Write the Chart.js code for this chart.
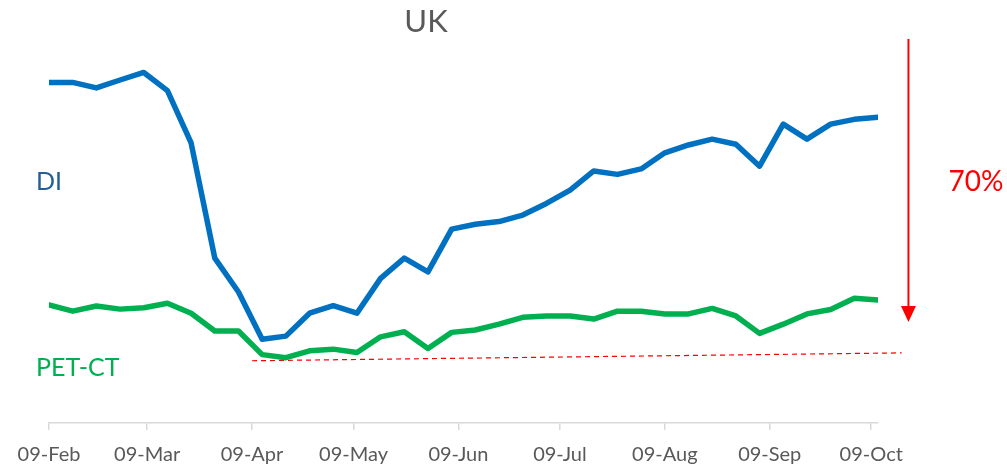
<!DOCTYPE html>
<html>
<head>
<meta charset="utf-8">
<title>UK</title>
<script src="https://cdn.jsdelivr.net/npm/chart.js@4/dist/chart.umd.min.js"></script>
<style>
  html, body { margin: 0; padding: 0; background: #fff; }
  #wrap { width: 1007px; height: 468px; }
</style>
</head>
<body>
<div id="wrap"><canvas id="ukChart"></canvas></div>
<script>
// weekly dates
const weeks = [
  '2020-02-09', '2020-02-16', '2020-02-23', '2020-03-01', '2020-03-08', '2020-03-15',
  '2020-03-22', '2020-03-29', '2020-04-05', '2020-04-12', '2020-04-19', '2020-04-26',
  '2020-05-03', '2020-05-10', '2020-05-17', '2020-05-24', '2020-05-31', '2020-06-07',
  '2020-06-14', '2020-06-21', '2020-06-28', '2020-07-05', '2020-07-12', '2020-07-19',
  '2020-07-26', '2020-08-02', '2020-08-09', '2020-08-16', '2020-08-23', '2020-08-30',
  '2020-09-06', '2020-09-13', '2020-09-20', '2020-09-27', '2020-10-04', '2020-10-11'
];

const diValues = [
  99.6, 99.6, 98.0, 100.3, 102.5, 97.2, 81.9, 48.2, 38.3, 24.5, 25.4, 32.1,
  34.3, 32.1, 42.3, 48.2, 44.2, 56.7, 58.1, 58.9, 60.8, 64.2, 68.1, 73.7,
  72.7, 74.3, 79.0, 81.3, 83.0, 81.5, 75.1, 87.4, 83.0, 87.4, 88.8, 89.4
];

const petctValues = [
  34.5, 32.7, 34.2, 33.3, 33.7, 35.0, 32.1, 26.9, 26.9, 20.0, 19.1, 21.1,
  21.6, 20.6, 25.2, 26.7, 21.8, 26.5, 27.2, 28.9, 30.9, 31.3, 31.3, 30.4,
  32.7, 32.7, 31.9, 31.9, 33.5, 31.3, 26.2, 28.9, 31.9, 33.2, 36.5, 36.0
];

const tickDates = [
  '2020-02-09', '2020-03-09', '2020-04-09', '2020-05-09', '2020-06-09',
  '2020-07-09', '2020-08-09', '2020-09-09', '2020-10-09'
];
const tickLabels = ['09-Feb', '09-Mar', '09-Apr', '09-May', '09-Jun', '09-Jul', '09-Aug', '09-Sep', '09-Oct'];

// dashed baseline and the drop arrow
const trendDates = ['2020-04-09', '2020-10-18'];
const trendValues = [18.2, 20.5];
const arrowDate = '2020-10-20';
const arrowFrom = 112.3;
const arrowTo = 29.5;
const dropLabel = '70%';

const startMs = Date.UTC(2020, 1, 9);
function dayOf(s) {
  const p = s.split('-');
  return Math.round((Date.UTC(+p[0], +p[1] - 1, +p[2]) - startMs) / 86400000);
}

const tickDays = tickDates.map(dayOf);
const diPoints = weeks.map((w, i) => ({ x: dayOf(w), y: diValues[i] }));
const petPoints = weeks.map((w, i) => ({ x: dayOf(w), y: petctValues[i] }));
const trendPoints = trendDates.map((d, i) => ({ x: dayOf(d), y: trendValues[i] }));

const FONT = 'Lato, "Open Sans", sans-serif';

const labelsPlugin = {
  id: 'labels',
  afterDraw(chart) {
    const ctx = chart.ctx;
    const xs = chart.scales.x;
    const ys = chart.scales.y;
    ctx.save();
    ctx.textBaseline = 'middle';

    ctx.fillStyle = '#595959';
    ctx.font = '31px ' + FONT;
    ctx.textAlign = 'center';
    ctx.fillText('UK', 426, 22);

    ctx.textAlign = 'left';
    ctx.font = '25px ' + FONT;
    ctx.fillStyle = '#255E95';
    ctx.fillText('DI', 36, 182);
    ctx.fillStyle = '#00B050';
    ctx.fillText('PET-CT', 36, 368);

    // arrow
    const ax = xs.getPixelForValue(dayOf(arrowDate));
    const y0 = ys.getPixelForValue(arrowFrom);
    const y1 = ys.getPixelForValue(arrowTo);
    ctx.strokeStyle = '#FF0000';
    ctx.fillStyle = '#FF0000';
    ctx.lineWidth = 2;
    ctx.beginPath();
    ctx.moveTo(ax, y0);
    ctx.lineTo(ax, y1 - 14);
    ctx.stroke();
    ctx.beginPath();
    ctx.moveTo(ax - 7.5, y1 - 16);
    ctx.lineTo(ax + 7.5, y1 - 16);
    ctx.lineTo(ax, y1);
    ctx.closePath();
    ctx.fill();

    ctx.font = '28px ' + FONT;
    ctx.textAlign = 'center';
    ctx.fillText(dropLabel, 976, 182);
    ctx.restore();
  }
};

const ctx = document.getElementById('ukChart').getContext('2d');
new Chart(ctx, {
  type: 'line',
  data: {
    datasets: [
      {
        label: 'DI',
        data: diPoints,
        borderColor: '#0070C0',
        borderWidth: 5.5,
        pointRadius: 0,
        borderCapStyle: 'round',
        borderJoinStyle: 'round',
        tension: 0
      },
      {
        label: 'PET-CT',
        data: petPoints,
        borderColor: '#00B050',
        borderWidth: 5.5,
        pointRadius: 0,
        borderCapStyle: 'round',
        borderJoinStyle: 'round',
        tension: 0
      },
      {
        label: 'trend',
        data: trendPoints,
        borderColor: '#FF0000',
        borderWidth: 1.2,
        borderDash: [5, 4],
        pointRadius: 0,
        clip: false,
        tension: 0
      }
    ]
  },
  options: {
    responsive: true,
    maintainAspectRatio: false,
    animation: false,
    layout: {
      padding: { left: 49, right: 129, top: 40, bottom: 1 }
    },
    plugins: {
      legend: { display: false },
      title: { display: false },
      tooltip: { enabled: false }
    },
    scales: {
      x: {
        type: 'linear',
        min: 0,
        max: dayOf(weeks[weeks.length - 1]),
        afterBuildTicks: axis => {
          axis.ticks = tickDays.map(v => ({ value: v }));
        },
        afterFit: axis => {
          axis.height = 44;
        },
        grid: {
          drawOnChartArea: false,
          drawTicks: true,
          tickLength: 7,
          color: '#D9D9D9',
          lineWidth: 1.5
        },
        border: { display: true, color: '#D9D9D9', width: 1.5 },
        ticks: {
          autoSkip: false,
          maxRotation: 0,
          padding: 13,
          color: '#595959',
          font: { family: FONT, size: 20 },
          callback: value => tickLabels[tickDays.indexOf(value)] || ''
        }
      },
      y: {
        display: false,
        min: 0,
        max: 112
      }
    }
  },
  plugins: [labelsPlugin]
});
</script>
</body>
</html>
